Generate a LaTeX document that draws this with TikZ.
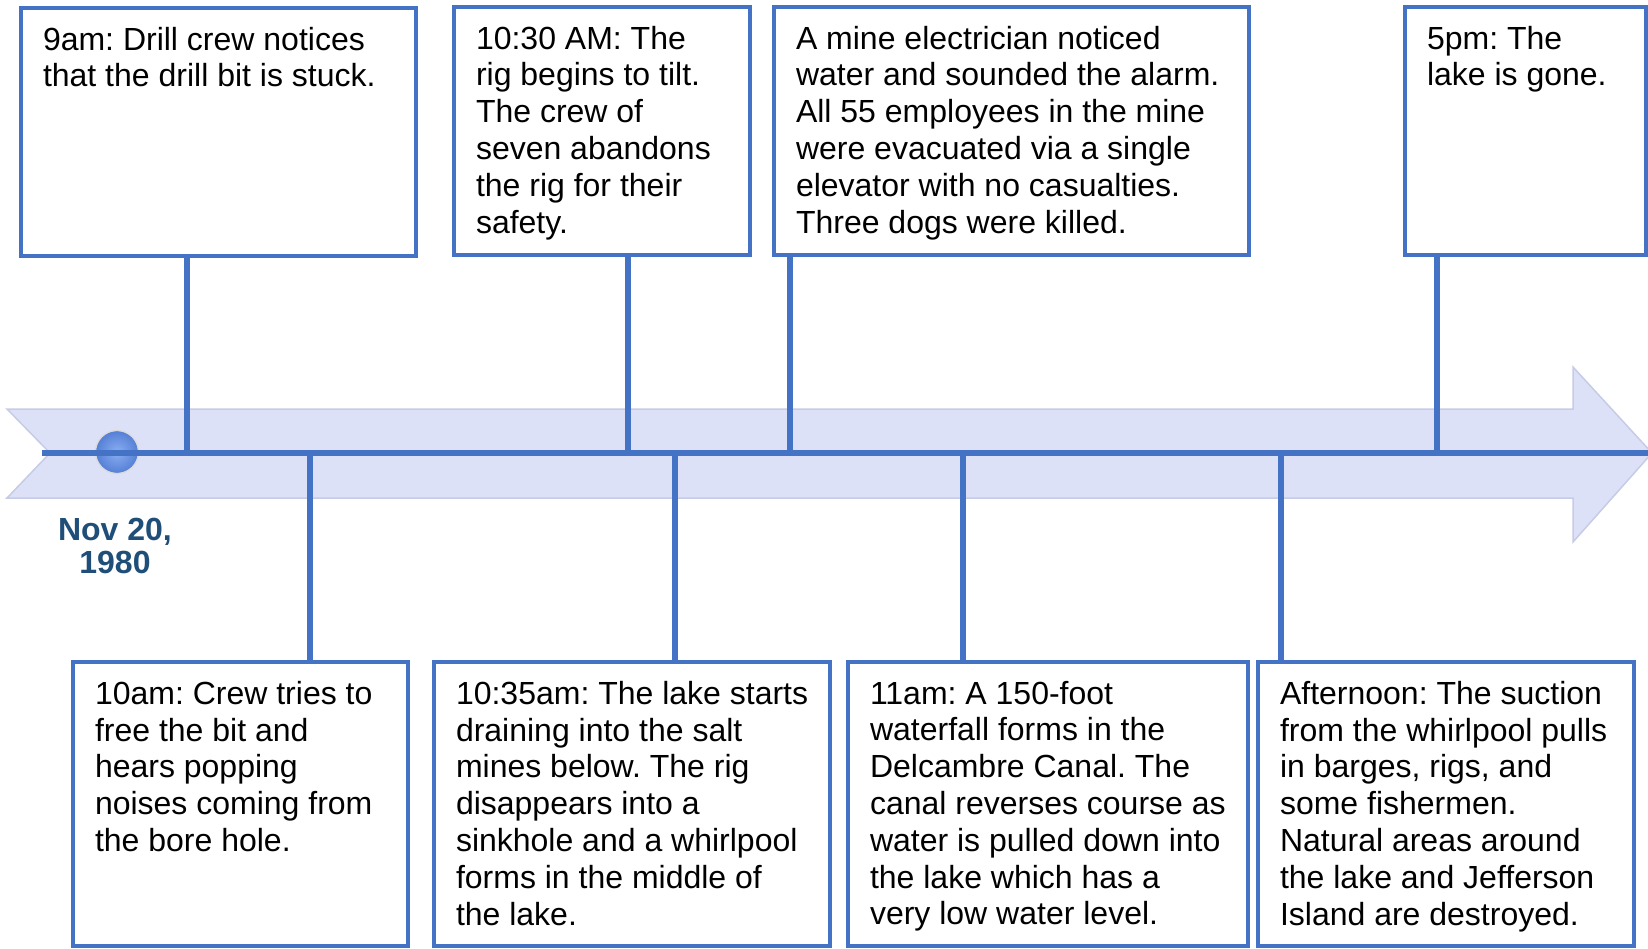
\documentclass[tikz,border=0pt]{standalone}
\usepackage{fontspec}
\setmainfont{Liberation Sans}
\usetikzlibrary{calc}
\definecolor{tlblue}{HTML}{4472C4}
\definecolor{tlband}{HTML}{DDE1F7}
\definecolor{tledge}{HTML}{C6CBE6}
\definecolor{tldate}{HTML}{1F4E79}
\definecolor{balllight}{HTML}{8AAEF2}
\definecolor{balldark}{HTML}{5680D6}
\newcommand{\evtext}[3]{\parbox[t][#2pt][t]{#1pt}{\frenchspacing\raggedright #3}}
\hfuzz=20pt

\tikzset{
  evbox/.style={draw=tlblue, line width=4pt, fill=white, anchor=north west,
    inner xsep=22pt, inner ysep=19pt, outer sep=0pt,
    font=\fontsize{32}{36.8}\selectfont},
  stem/.style={draw=tlblue, line width=5.5pt},
  axis/.style={draw=tlblue, line width=6pt},
  datelabel/.style={text=tldate, align=center, anchor=base,
    font=\fontsize{32}{33}\selectfont\bfseries},
}

\begin{document}
\begin{tikzpicture}[x=1pt, y=-1pt]
\clip (0,0) rectangle (1648,948);
\path [fill=tlband, draw=tledge, line width=1.5pt] (7,409)--(1573,409)--(1573,367)--(1652,453)--(1573,542)--(1573,498)--(7,498)--(50,453)--cycle;
\shade [inner color=balllight, outer color=balldark] (117,452) circle (21pt);
\draw [gray!30, line width=1.2pt] (117,452) circle (21.5pt);

\coordinate (ax0) at (42,453);
\coordinate (ax1) at (1650,453);
\draw [axis] (ax0) -- (ax1);

\node [datelabel] (d0) at (115,573) {Nov 20,\\1980};

\coordinate (t1) at (187,453);
\coordinate (t2) at (628,453);
\coordinate (t3) at (790,453);
\coordinate (t4) at (1437,453);
\coordinate (t5) at (310,453);
\coordinate (t6) at (675,453);
\coordinate (t7) at (963,453);
\coordinate (t8) at (1281,453);

\node [evbox] (b1) at (21,8) {\evtext{351}{210}{9am: Drill crew notices\\that the drill bit is stuck.}};
\node [evbox] (b2) at (454,7) {\evtext{252}{210}{10:30 AM: The\\rig begins to tilt.\\The crew of\\seven abandons\\the rig for their\\safety.}};
\node [evbox] (b3) at (774,7) {\evtext{431}{210}{A mine electrician noticed\\water and sounded the alarm.\\All 55 employees in the mine\\were evacuated via a single\\elevator with no casualties.\\Three dogs were killed.}};
\node [evbox] (b4) at (1405,7) {\evtext{197}{210}{5pm: The\\lake is gone.}};
\node [evbox] (b5) at (73,662) {\evtext{291}{246}{10am: Crew tries to\\free the bit and\\hears popping\\noises coming from\\the bore hole.}};
\node [evbox] (b6) at (434,662) {\evtext{352}{246}{\mbox{10:35am: The lake starts}\\draining into the salt\\mines below. The rig\\disappears into a\\sinkhole and a whirlpool\\forms in the middle of\\the lake.}};
\node [evbox] (b7) at (848,662) {\evtext{356}{246}{11am: A 150-foot\\waterfall forms in the\\Delcambre Canal. The\\canal reverses course as\\water is pulled down into\\the lake which has a\\very low water level.}};
\node [evbox] (b8) at (1258,662) {\evtext{332}{246}{Afternoon: The suction\\from the whirlpool pulls\\in barges, rigs, and\\some fishermen.\\Natural areas around\\the lake and Jefferson\\Island are destroyed.}};

\foreach \i in {1,...,4}
  \draw [stem] (t\i) -- (t\i |- b\i.south);
\foreach \i in {5,...,8}
  \draw [stem] (t\i) -- (t\i |- b\i.north);
\end{tikzpicture}
\end{document}
